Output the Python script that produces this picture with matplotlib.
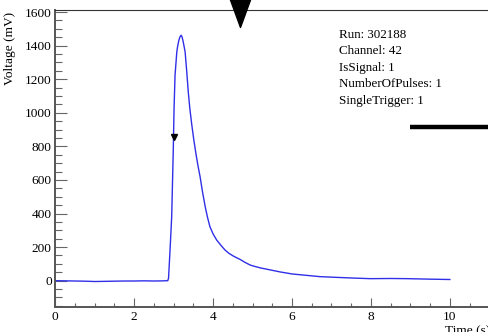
import matplotlib
matplotlib.use('Agg')
import matplotlib.pyplot as plt
from matplotlib.path import Path
from matplotlib.ticker import MultipleLocator

plt.rcParams['font.family'] = ['Liberation Serif', 'DejaVu Serif']

# waveform
time = [0.0, 0.25, 0.5, 0.75, 1.0, 1.25, 1.5, 1.75, 2.0, 2.25, 2.5, 2.75, 2.85,
        2.87, 2.91, 2.95, 2.97, 2.99, 3.01, 3.035, 3.08, 3.10, 3.13, 3.16,
        3.19, 3.215, 3.24, 3.29, 3.33, 3.37, 3.41, 3.46, 3.51, 3.57, 3.62,
        3.67, 3.73, 3.80, 3.86, 3.92, 4.0, 4.09, 4.2, 4.30, 4.4, 4.51, 4.6,
        4.68, 4.8, 4.94, 5.07, 5.2, 5.45, 5.7, 6.0, 6.35, 6.71, 7.0, 7.5,
        7.98, 8.5, 8.91, 9.5, 10.0]
voltage = [0, -1, -2, -3, -5, -4, -3, -2, -2, -1, -2, -1, 0,
           14, 190, 381, 580, 778, 1026, 1224, 1363, 1395, 1430, 1452,
           1462, 1450, 1425, 1363, 1250, 1125, 1025, 927, 840, 748, 680,
           619, 530, 440, 375, 321, 278, 242, 210, 183, 163, 147, 136,
           127, 110, 93, 84, 76, 64, 52, 40, 32, 24, 21, 16,
           12, 13, 12, 9, 7]

info = ['Run: 302188', 'Channel: 42', 'IsSignal: 1',
        'NumberOfPulses: 1', 'SingleTrigger: 1']

trigger_time, trigger_v = 3.0, 857
top_marker_time, top_marker_v = 4.69, 1600
threshold_x = [9.0, 11.0]
threshold_v = [915, 915]

fig = plt.figure(figsize=(4.89, 3.32), dpi=100)
ax = fig.add_axes([55.3 / 489, 25.3 / 332, 434 / 489, 296.7 / 332])

ax.plot(time, voltage, color='#2f2fe8', lw=1.0)
ax.plot([trigger_time], [trigger_v], marker='v', ms=4.5, color='black', ls='none')
narrow_v = Path([(0, -1), (-0.73, 1), (0.73, 1), (0, -1)],
                [Path.MOVETO, Path.LINETO, Path.LINETO, Path.CLOSEPOLY])
ax.plot([top_marker_time], [top_marker_v], marker=narrow_v, ms=21.6,
        color='black', ls='none', clip_on=False, zorder=5)
ax.plot(threshold_x, threshold_v, color='black', lw=3.2, solid_capstyle='butt',
        clip_on=False)

ax.set_xlim(0, 11)
ax.set_ylim(-155, 1612)

ax.xaxis.set_major_locator(MultipleLocator(2))
ax.xaxis.set_minor_locator(MultipleLocator(0.5))
ax.yaxis.set_major_locator(MultipleLocator(200))
ax.yaxis.set_minor_locator(MultipleLocator(50))

ax.tick_params(axis='x', which='major', direction='in', length=6.5, width=0.8,
               color='#666666', pad=3, labelsize=9.6)
ax.tick_params(axis='x', which='minor', direction='in', length=3.2, width=0.8,
               color='#666666')
ax.tick_params(axis='y', which='major', direction='in', length=8.3, width=0.8,
               color='#666666', pad=2.6, labelsize=9.6)
ax.tick_params(axis='y', which='minor', direction='in', length=4.7, width=0.8,
               color='#666666')

for side in ['left', 'bottom']:
    ax.spines[side].set_color('#555555')
    ax.spines[side].set_linewidth(1.4)
ax.spines['top'].set_color('#333333')
ax.spines['top'].set_linewidth(0.8)
ax.spines['right'].set_visible(False)

ax.set_ylabel('Voltage (mV)', fontsize=9.6, loc='top')
ax.yaxis.label.set_va('center')
ax.yaxis.set_label_coords(-0.1055, 0.993)
ax.set_xlabel('Time (s)', fontsize=9.6, loc='right')
ax.xaxis.set_label_coords(1.0016, -0.063)

for i, line in enumerate(info):
    yc = 35 + 16.4 * i
    ax.text(0.654, 1 - (yc - 10) / 296.7, line, transform=ax.transAxes,
            ha='left', va='center', fontsize=9.4)

fig.savefig('out.png', dpi=100)
